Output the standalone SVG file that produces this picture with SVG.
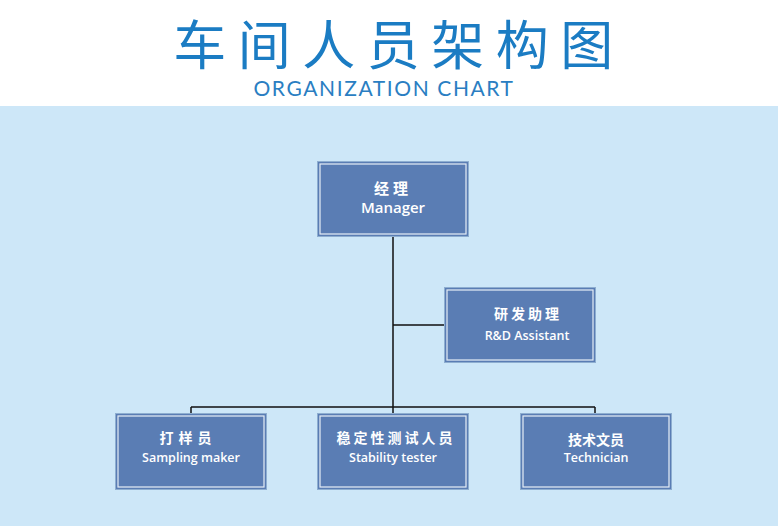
<svg xmlns="http://www.w3.org/2000/svg" width="778" height="526" viewBox="0 0 778 526">
<style>
.box-o{fill:#5a7db4;stroke:#8eaed0;stroke-width:1}
.box-i{fill:none;stroke:#e6eef7;stroke-width:1.2}
.cn{font-family:"Noto Sans CJK SC","Noto Sans",sans-serif;font-weight:bold;fill:#ffffff;text-anchor:middle}
.en{font-family:"Open Sans","Liberation Sans",sans-serif;font-weight:600;fill:#ffffff;text-anchor:middle}
.ln{stroke:#111111;stroke-width:1.5;fill:none}
</style>
<rect x="0" y="0" width="778" height="526" fill="#cde7f8"/>
<rect x="0" y="0" width="778" height="106" fill="#ffffff"/>
<text x="399" y="65" font-family="Noto Sans CJK SC,sans-serif" font-size="53" font-weight="400" letter-spacing="11.5" fill="#1b7cc3" text-anchor="middle">车间人员架构图</text>
<text x="384" y="96" font-family="Lato,Open Sans,sans-serif" font-size="21" font-weight="400" letter-spacing="1.6" fill="#2a7ec2" text-anchor="middle">ORGANIZATION CHART</text>
<g id="connectors">
<path class="ln" d="M393 236 V407 M191 407 H595 M191 407 V413 M595 407 V413 M393 407 V413 M393 325 H446"/>
</g>
<g id="manager">
<rect class="box-o" x="317.5" y="161.5" width="151" height="75"/>
<rect class="box-i" x="320" y="164" width="146" height="70"/>
<text class="cn" x="393" y="194" font-size="15" letter-spacing="4">经理</text>
<text class="en" x="393" y="213" font-size="15">Manager</text>
</g>
<g id="rd-assistant">
<rect class="box-o" x="444.5" y="287.5" width="151" height="75"/>
<rect class="box-i" x="447" y="290" width="146" height="70"/>
<text class="cn" x="528" y="319" font-size="14" letter-spacing="3">研发助理</text>
<text class="en" x="527" y="340" font-size="12.5">R&amp;D Assistant</text>
</g>
<g id="sampling-maker">
<rect class="box-o" x="115.5" y="413.5" width="151" height="76"/>
<rect class="box-i" x="118" y="416" width="146" height="71"/>
<text class="cn" x="188" y="443" font-size="14" letter-spacing="5">打样员</text>
<text class="en" x="191" y="462" font-size="12.5">Sampling maker</text>
</g>
<g id="stability-tester">
<rect class="box-o" x="317.5" y="413.5" width="151" height="76"/>
<rect class="box-i" x="320" y="416" width="146" height="71"/>
<text class="cn" x="396" y="443" font-size="14" letter-spacing="3">稳定性测试人员</text>
<text class="en" x="393" y="462" font-size="12.5">Stability tester</text>
</g>
<g id="technician">
<rect class="box-o" x="520.5" y="413.5" width="151" height="76"/>
<rect class="box-i" x="523" y="416" width="146" height="71"/>
<text class="cn" x="596" y="445" font-size="14">技术文员</text>
<text class="en" x="596" y="462" font-size="12.5">Technician</text>
</g>
</svg>
